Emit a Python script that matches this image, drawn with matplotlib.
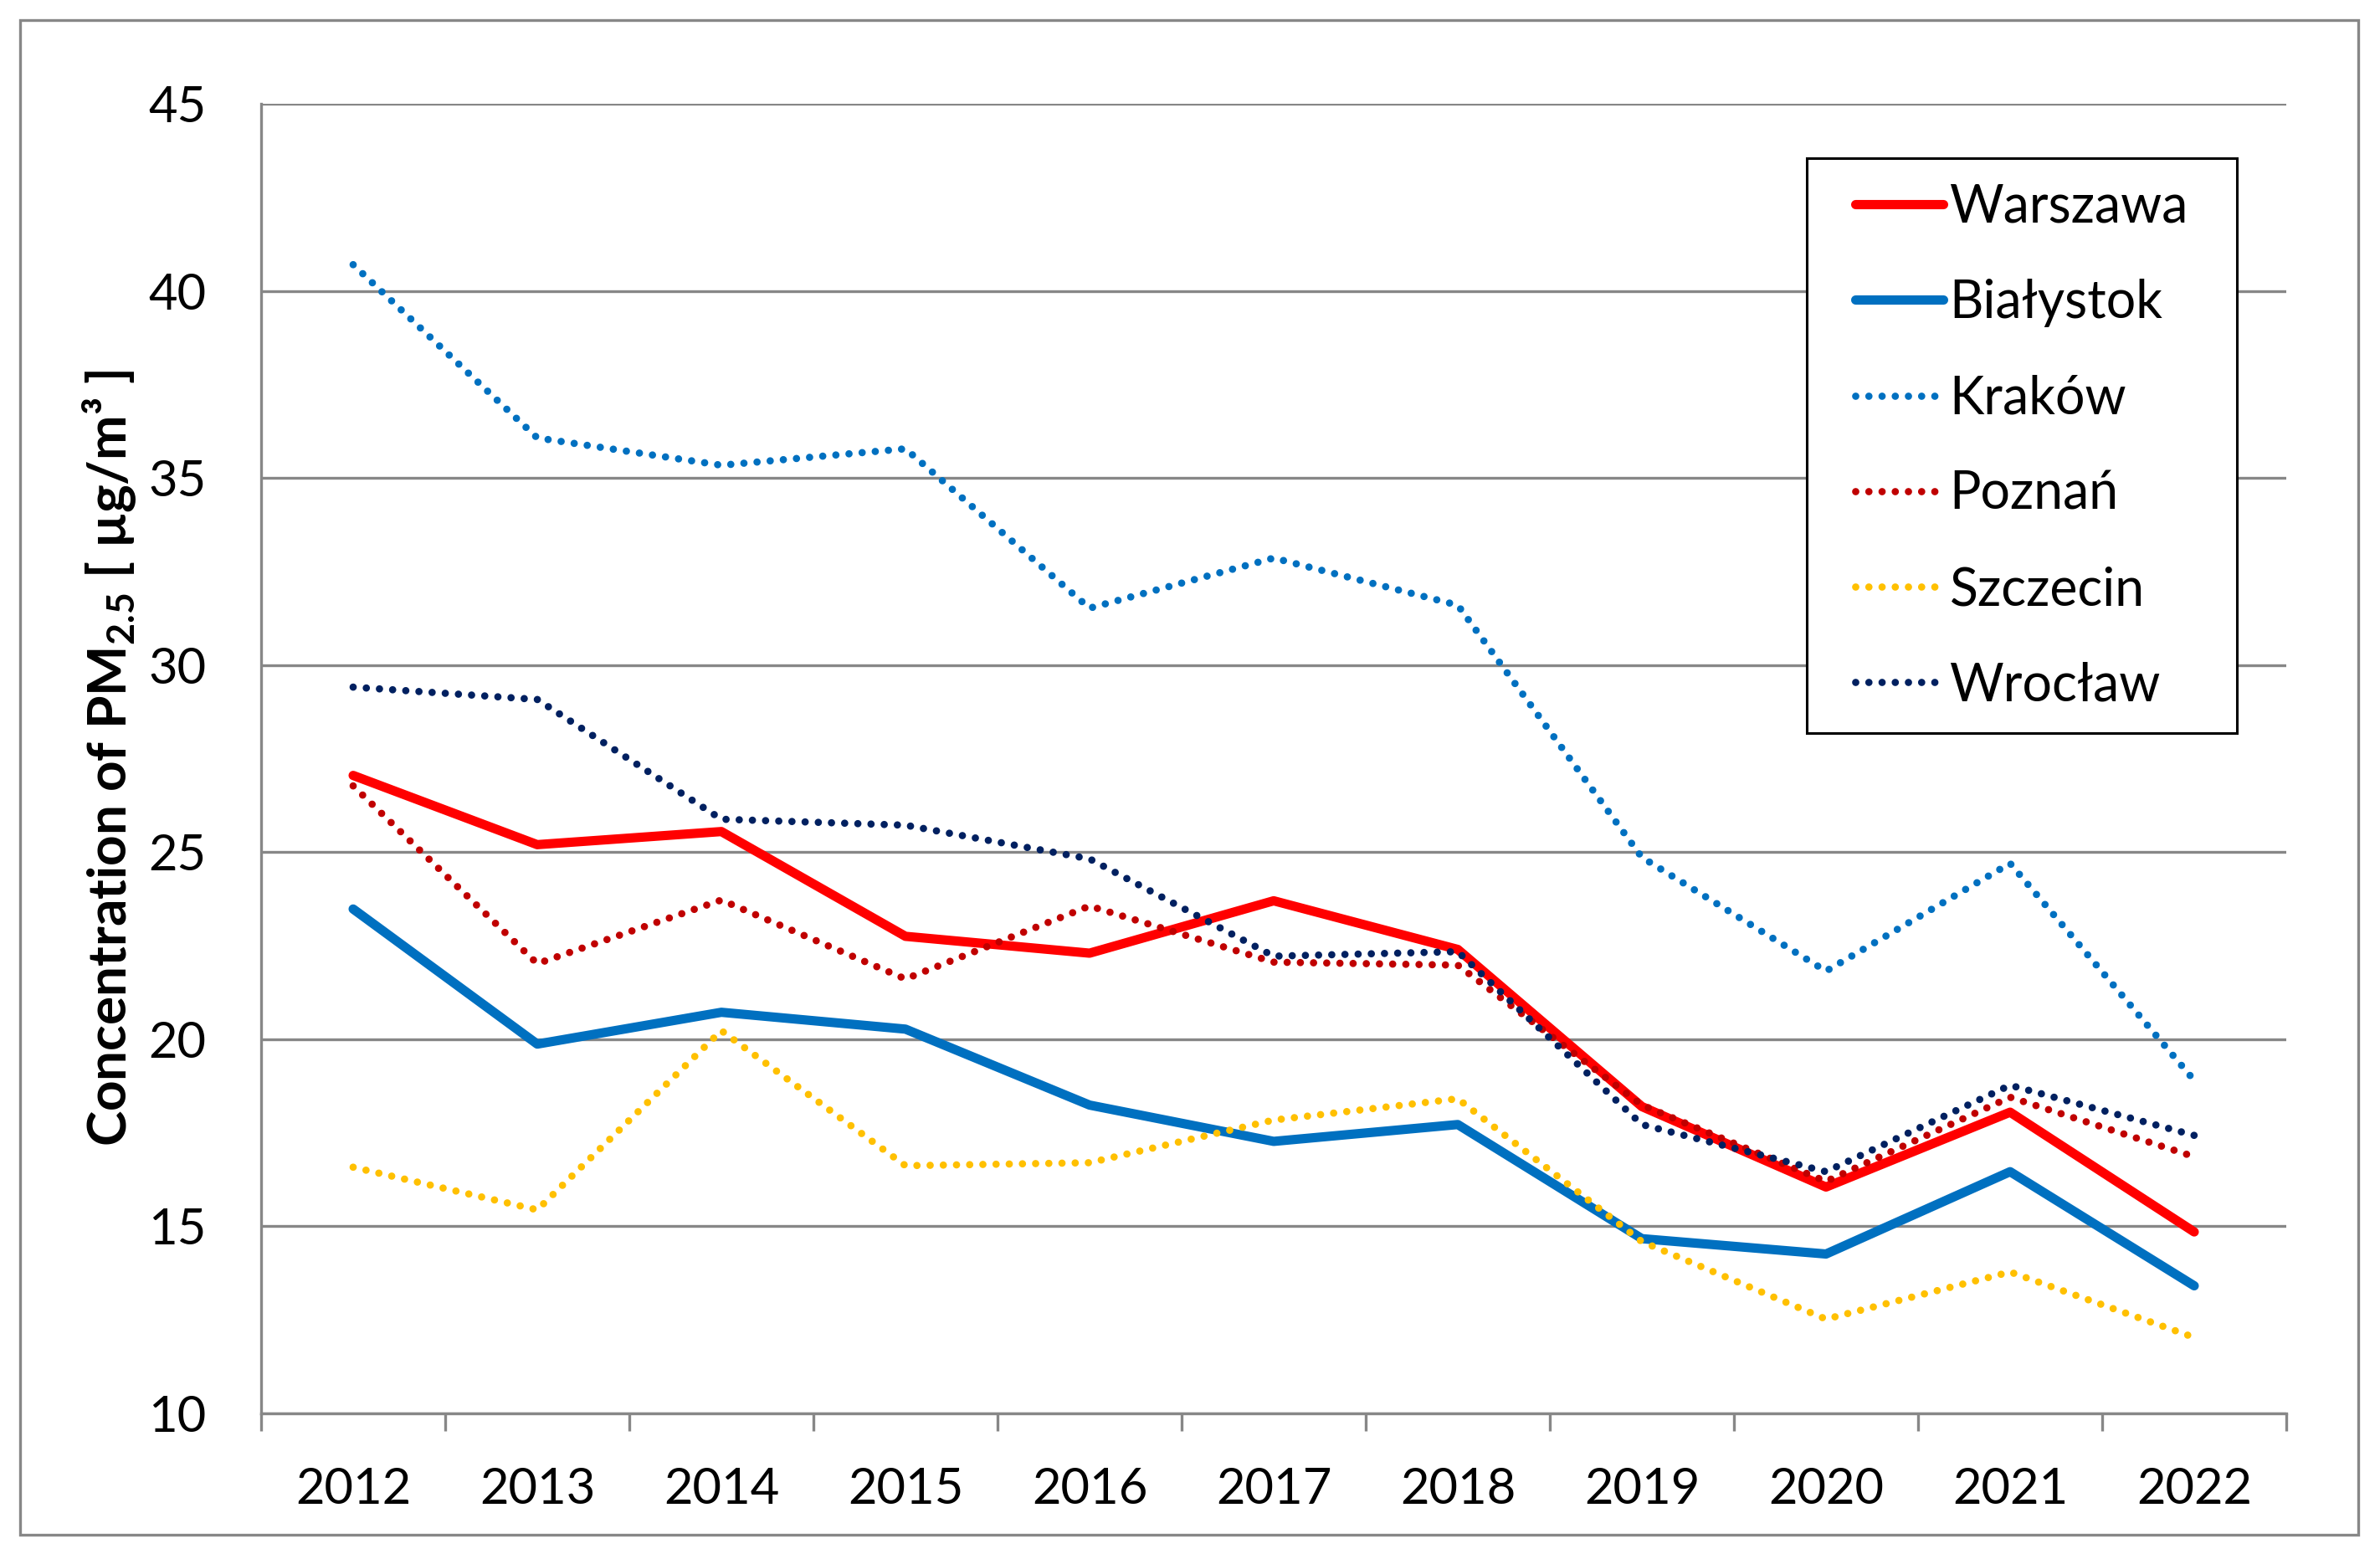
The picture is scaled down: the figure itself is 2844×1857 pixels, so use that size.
import matplotlib
matplotlib.use("Agg")
import matplotlib.pyplot as plt
import numpy as np
from matplotlib.patches import Rectangle

plt.rcParams['font.family'] = ['Lato', 'DejaVu Sans']
plt.rcParams['mathtext.fontset'] = 'custom'
plt.rcParams['mathtext.rm'] = 'Lato'
plt.rcParams['mathtext.bf'] = 'Lato:bold'

years = ['2012', '2013', '2014', '2015', '2016', '2017', '2018', '2019', '2020', '2021', '2022']
warszawa = [27.05, 25.2, 25.55, 22.75, 22.3, 23.7, 22.4, 18.2, 16.05, 18.05, 14.85]
bialystok = [23.48, 19.87, 20.72, 20.27, 18.24, 17.27, 17.72, 14.67, 14.26, 16.46, 13.41]
krakow = [40.7, 36.07, 35.34, 35.78, 31.52, 32.86, 31.6, 24.86, 21.82, 24.7, 18.9]
poznan = [26.77, 22.02, 23.72, 21.61, 23.56, 22.06, 21.98, 18.24, 16.2, 18.45, 16.86]
szczecin = [16.58, 15.44, 20.23, 16.62, 16.7, 17.84, 18.41, 14.59, 12.52, 13.78, 12.03]
wroclaw = [29.41, 29.08, 25.88, 25.72, 24.82, 22.22, 22.34, 17.72, 16.46, 18.77, 17.43]

names = ['Warszawa', 'Białystok', 'Kraków', 'Poznań', 'Szczecin', 'Wrocław']
colors = ['#FF0000', '#0070C0', '#0070C0', '#C00000', '#FFC000', '#002060']
solid = [True, True, False, False, False, False]

GRAY = '#878787'
DOT = (0, (0.001, 1.8))

W, H = 2844, 1857
fig = plt.figure(figsize=(W / 100, H / 100), dpi=100)
ax = fig.add_axes([312 / W, 1 - 1689 / H, (2732 - 312) / W, (1689 - 124) / H])

x = np.arange(len(years))
series = [warszawa, bialystok, krakow, poznan, szczecin, wroclaw]

handles = []
for vals, c, s, name in zip(series, colors, solid, names):
    if s:
        ln, = ax.plot(x, vals, color=c, lw=8, solid_capstyle='round', solid_joinstyle='round',
                      zorder=3, label=name)
    else:
        ln, = ax.plot(x, vals, color=c, lw=6.3, linestyle=DOT, dash_capstyle='round',
                      dash_joinstyle='round', zorder=3, label=name)
    handles.append(ln)

ax.set_xlim(-0.5, 10.5)
ax.set_ylim(10, 45)
ax.set_yticks(np.arange(10, 46, 5))
ax.tick_params(axis='y', length=0, pad=47, labelsize=43)

ax.set_xticks(np.arange(-0.5, 11, 1))
ax.set_xticklabels([])
ax.set_xticks(x, minor=True)
ax.set_xticklabels(years, minor=True)
ax.tick_params(axis='x', which='major', length=15, width=2.4, color=GRAY, direction='out')
ax.tick_params(axis='x', which='minor', length=0, pad=46, labelsize=43)

ax.yaxis.grid(True, color=GRAY, lw=2.4)
ax.set_axisbelow(True)
for s in ['top', 'right']:
    ax.spines[s].set_visible(False)
for s in ['left', 'bottom']:
    ax.spines[s].set_color(GRAY)
    ax.spines[s].set_linewidth(2.4)

fig.text(131 / W, 1 - 906 / H, r"Concentration of PM$_{\mathbf{2.5}}$ [ µg/m³ ]",
         rotation=90, ha='center', va='center', fontsize=46, fontweight='bold')

# legend box drawn separately so its size matches
box = Rectangle((2159 / W, 1 - 876 / H), (2673 - 2159) / W, (876 - 189) / H,
                transform=fig.transFigure, facecolor='white', edgecolor='black', lw=2.2,
                clip_on=False, zorder=4)
ax.add_patch(box)
leg = ax.legend(handles, names, loc='upper left', bbox_to_anchor=(2217 / W, 1 - 219 / H),
                bbox_transform=fig.transFigure, borderaxespad=0, borderpad=0, fontsize=45,
                handlelength=1.68, handletextpad=0.12, labelspacing=0.9, frameon=False)
leg.set_zorder(5)

fig.patches.append(Rectangle((24 / W, 1 - 1834 / H), (2818 - 24) / W, (1834 - 24) / H,
                             transform=fig.transFigure, fill=False, edgecolor=GRAY, lw=2.4))

fig.savefig('out.png', dpi=100, facecolor='white')
